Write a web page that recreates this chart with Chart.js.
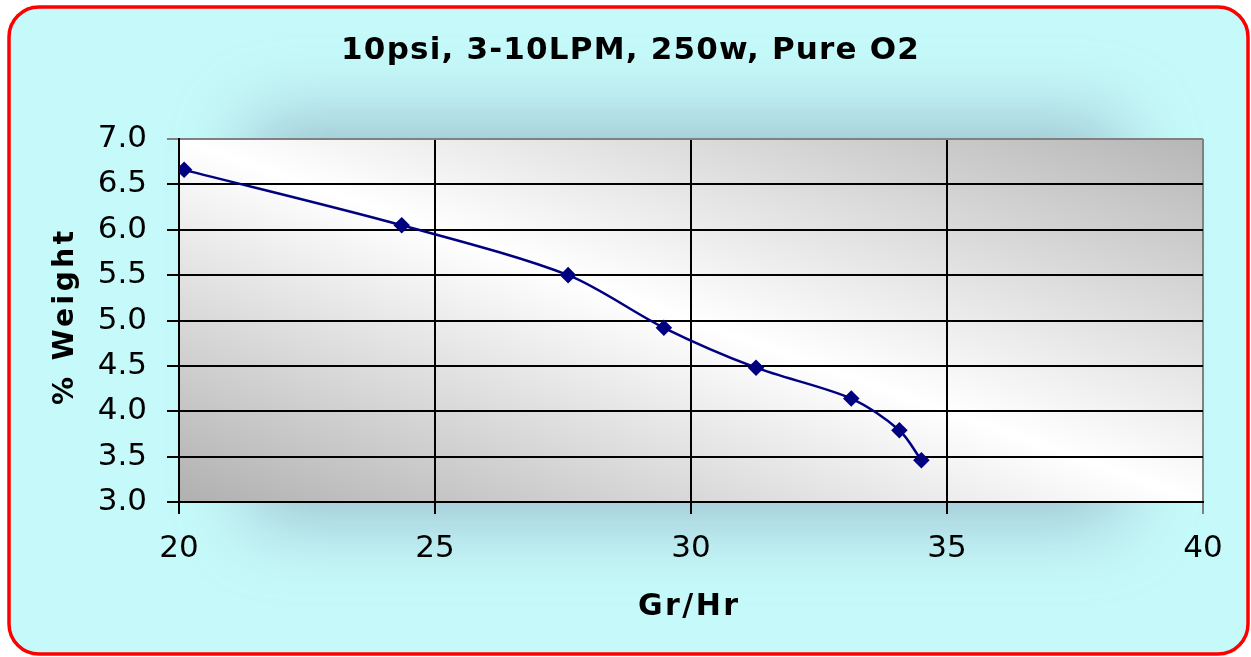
<!DOCTYPE html>
<html>
<head>
<meta charset="utf-8">
<script src="https://cdn.jsdelivr.net/npm/chart.js@4.4.1/dist/chart.umd.min.js"></script>
<style>
  html, body { margin: 0; padding: 0; background: #ffffff; }
  #wrap { width: 1251px; height: 657px; }
</style>
</head>
<body>
<div id="wrap"><canvas id="chart" width="1251" height="657"></canvas></div>
<script>
// Values
const gramsPerHour = [20.1, 24.35, 27.6, 29.47, 31.27, 33.13, 34.07, 34.5];
const percentWeight = [6.66, 6.05, 5.5, 4.92, 4.48, 4.14, 3.79, 3.46];
const chartTitle = "10psi, 3-10LPM, 250w, Pure O2";
const xTitle = "Gr/Hr";
const yTitle = "% Weight";

const points = gramsPerHour.map((x, i) => ({ x: x, y: percentWeight[i] }));

// draw a bold title with a bit of letter spacing (Verdana is wider than DejaVu)
function spacedText(ctx, text, x, y, size, spacing, angle) {
    ctx.save();
    ctx.translate(x, y);
    ctx.rotate(angle);
    ctx.font = "bold " + size + "px 'DejaVu Sans'";
    ctx.letterSpacing = spacing + "px";
    ctx.fillStyle = "#000000";
    ctx.textAlign = "center";
    ctx.textBaseline = "alphabetic";
    ctx.fillText(text, spacing / 2, 0);
    ctx.restore();
}

// Background, red frame, halo and gradient plot area
const backdrop = {
    id: "backdrop",
    beforeDraw(chart) {
        const ctx = chart.ctx;
        const a = chart.chartArea;
        ctx.save();
        ctx.fillStyle = "#ffffff";
        ctx.fillRect(0, 0, chart.width, chart.height);

        ctx.beginPath();
        ctx.roundRect(9, 7, 1239, 647, 30);
        ctx.fillStyle = "#c6fafa";
        ctx.fill();

        // soft halo behind plot, only the shadow is drawn
        ctx.save();
        ctx.beginPath();
        ctx.roundRect(9, 7, 1239, 647, 30);
        ctx.clip();
        ctx.shadowColor = "rgba(140,170,190,0.7)";
        ctx.shadowBlur = 70;
        ctx.shadowOffsetX = 3000;
        ctx.fillStyle = "#000000";
        ctx.fillRect(a.left + 70 - 3000, a.top - 20, a.right - a.left - 150, a.bottom - a.top + 40);
        ctx.restore();

        // plot gradient in normalised space
        ctx.save();
        ctx.translate(a.left, a.top);
        ctx.scale(a.right - a.left, a.bottom - a.top);
        const g = ctx.createLinearGradient(0, 1, 1, 0);
        g.addColorStop(0, "#b0b0b0");
        g.addColorStop(0.5, "#ffffff");
        g.addColorStop(1, "#b6b6b6");
        ctx.fillStyle = g;
        ctx.fillRect(0, 0, 1, 1);
        ctx.restore();

        ctx.restore();
    },
    afterDraw(chart) {
        const ctx = chart.ctx;
        spacedText(ctx, chartTitle, 630, 59, 31, 1.2, 0);
        spacedText(ctx, xTitle, 688, 615, 30, 2.4, 0);
        spacedText(ctx, yTitle, 73, 318, 28, 3.5, -Math.PI / 2);

        ctx.save();
        ctx.beginPath();
        ctx.roundRect(9, 7, 1239, 647, 30);
        ctx.lineWidth = 3.5;
        ctx.strokeStyle = "#ff0000";
        ctx.stroke();
        ctx.restore();
    }
};

const chart = new Chart(document.getElementById("chart"), {
    type: "scatter",
    data: {
        datasets: [{
            data: points,
            showLine: true,
            borderColor: "#000080",
            borderWidth: 2.5,
            tension: 0.3,
            pointStyle: "rectRot",
            pointRadius: 6.5,
            pointHoverRadius: 6.5,
            pointBackgroundColor: "#000080",
            pointBorderColor: "#000080"
        }]
    },
    options: {
        responsive: false,
        animation: false,
        layout: { padding: { left: 0, right: 48, top: 139, bottom: 0 } },
        plugins: {
            legend: { display: false },
            tooltip: { enabled: false },
            title: { display: false }
        },
        scales: {
            x: {
                type: "linear",
                min: 20,
                max: 40,
                ticks: {
                    stepSize: 5,
                    color: "#000000",
                    padding: 16,
                    font: { family: "DejaVu Sans", size: 31 }
                },
                grid: {
                    color: (c) => c.tick && c.tick.value === 40 ? "#808080" : "#000000",
                    lineWidth: 2,
                    tickLength: 12
                },
                border: { color: "#000000", width: 2 },
                afterFit(scale) { scale.height = 155; }
            },
            y: {
                type: "linear",
                min: 3,
                max: 7,
                ticks: {
                    stepSize: 0.5,
                    color: "#000000",
                    padding: 20,
                    font: { family: "DejaVu Sans", size: 31 },
                    callback: (v) => v.toFixed(1)
                },
                grid: {
                    color: (c) => c.tick && c.tick.value === 7 ? "#808080" : "#000000",
                    lineWidth: 2,
                    tickLength: 12
                },
                border: { color: "#000000", width: 2 },
                afterFit(scale) { scale.width = 179; }
            }
        }
    },
    plugins: [backdrop]
});
</script>
</body>
</html>
